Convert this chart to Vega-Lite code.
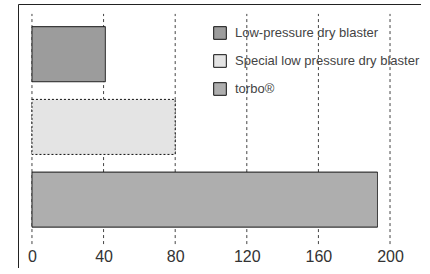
{
  "$schema": "https://vega.github.io/schema/vega-lite/v6.json",
  "width": 403,
  "height": 264,
  "autosize": "none",
  "padding": {"left": 18, "top": 4, "right": 0, "bottom": 0},
  "background": "white",
  "config": {"view": {"stroke": "#222", "strokeWidth": 1}, "font": "Liberation Sans"},
  "datasets": {
    "bars": [
      {"type": "Low-pressure dry blaster", "value": 41},
      {"type": "Special low pressure dry blaster", "value": 80},
      {"type": "torbo®", "value": 193}
    ],
    "grid": [{"v": 0}, {"v": 40}, {"v": 80}, {"v": 120}, {"v": 160}, {"v": 200}]
  },
  "layer": [
    {
      "data": {"name": "grid"},
      "mark": {"type": "rule", "strokeDash": [3, 3], "color": "#444", "strokeWidth": 1},
      "encoding": {
        "x": {"field": "v", "type": "quantitative", "scale": {"domain": [-7.8, 217.3], "nice": false, "zero": false},
          "axis": {"values": [0, 40, 80, 120, 160, 200], "offset": -20, "domain": false, "ticks": false, "grid": false, "labelPadding": 0, "labelFontSize": 16, "labelColor": "#333", "title": null}},
        "y": {"datum": 0, "type": "quantitative", "scale": {"domain": [-0.104, 1.043], "nice": false}, "axis": null},
        "y2": {"datum": 1}
      }
    },
    {
      "data": {"name": "bars"},
      "mark": {"type": "bar", "stroke": "#111", "strokeWidth": 1},
      "encoding": {
        "y": {"field": "type", "type": "nominal", "sort": null, "scale": {"paddingInner": 0.243, "paddingOuter": 0.437, "align": 0.357}, "axis": null},
        "x": {"field": "value", "type": "quantitative",
          "axis": {"values": [0, 40, 80, 120, 160, 200], "offset": -20, "domain": false, "ticks": false, "grid": false, "labelPadding": 0, "labelFontSize": 16, "labelColor": "#333", "title": null}},
        "fill": {"field": "type", "type": "nominal", "sort": null,
          "scale": {"domain": ["Low-pressure dry blaster", "Special low pressure dry blaster", "torbo®"], "range": ["#9c9c9c", "#e4e4e4", "#aeaeae"]},
          "legend": {"orient": "none", "legendX": 195, "legendY": 22, "title": null, "symbolType": "square", "symbolSize": 160, "symbolStrokeColor": "#111", "symbolStrokeWidth": 1, "labelFontSize": 13, "labelColor": "#444", "labelOffset": 8, "rowPadding": 10, "labelLimit": 300, "padding": 0}},
        "strokeDash": {"condition": {"test": "datum.type === 'Special low pressure dry blaster'", "value": [2, 2]}, "value": [1, 0]}
      }
    }
  ],
  "resolve": {"scale": {"y": "independent"}}
}
